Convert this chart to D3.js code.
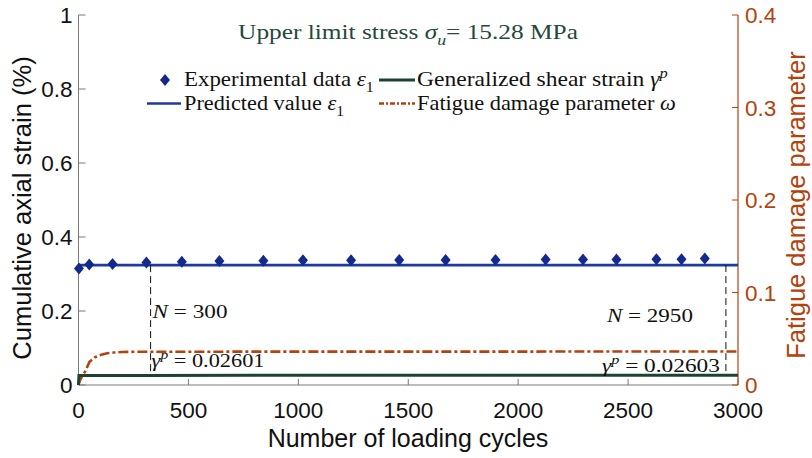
<!DOCTYPE html>
<html><head><meta charset="utf-8">
<script src="https://cdn.jsdelivr.net/npm/d3@7"></script>
<style>body{margin:0;background:#fff} svg{display:block}</style>
</head><body><svg id="c" width="812" height="458"></svg>
<script>
// ---- data ----
const expCycles = [2, 49, 155, 309, 470, 641, 841, 1021, 1240, 1459, 1670, 1897, 2125, 2295, 2447, 2629, 2743, 2849];
const expStrain = [0.315, 0.326, 0.327, 0.331, 0.333, 0.335, 0.336, 0.337, 0.337, 0.338, 0.338, 0.338, 0.339, 0.339, 0.339, 0.340, 0.340, 0.342];
const predCycles = [0, 3000];
const predStrain = [0.324, 0.324];
const shearCycles = [0, 2, 300, 3000];
const shearStrain = [0, 0.0258, 0.02601, 0.02603];
const damageCycles = [0, 5, 15, 30, 50, 75, 100, 130, 160, 200, 250, 300, 3000];
const damageValue = [0, 0.004, 0.009, 0.0144, 0.025, 0.030, 0.0324, 0.0343, 0.0351, 0.0356, 0.0359, 0.0360, 0.0362];
const markCycles = [328, 2945];
const xTicks = [0, 500, 1000, 1500, 2000, 2500, 3000];
const yTicks = [0, 0.2, 0.4, 0.6, 0.8, 1];
const y2Ticks = [0, 0.1, 0.2, 0.3, 0.4];

// ---- style ----
const C = {blue:"#14298c", line:"#1d3a9e", green:"#1b4430", orange:"#b3420c", title:"#24493a", axis:"#7a7a7a", text:"#111"};
const SERIF = "'Liberation Serif','Times New Roman',serif";
const SANS = "'Liberation Sans',Arial,Helvetica,sans-serif";

const svg = d3.select("#c");
const L = 78.5, R = 738, T = 15, B = 385;
const x = d3.scaleLinear().domain([0, 3000]).range([L, R]);
const y = d3.scaleLinear().domain([0, 1]).range([B, T]);
const y2 = d3.scaleLinear().domain([0, 0.4]).range([B, T]);

// serif math-like text, stretched horizontally to a target width (Computer Modern is wider than Times)
function rich(g, px, py, parts, size, color, anchor, width) {
  const gg = g.append("g").attr("transform", `translate(${px},${py})`);
  const t = gg.append("text").attr("x", 0).attr("y", 0)
    .attr("font-family", SERIF).attr("font-size", size).attr("fill", color)
    .attr("text-anchor", anchor || "start");
  let cur = 0;
  parts.forEach(([s, st]) => {
    st = st || "";
    let shift = 0, fs = size;
    if (st.includes("sub")) { shift = size * 0.3; fs = size * 0.7; }
    if (st.includes("sup")) { shift = -size * 0.42; fs = size * 0.7; }
    const ts = t.append("tspan").text(s).attr("font-size", fs).attr("dy", shift - cur);
    if (st.includes("i")) ts.attr("font-style", "italic");
    cur = shift;
  });
  if (width) {
    const w = t.node().getComputedTextLength();
    if (w > 0) gg.attr("transform", `translate(${px},${py}) scale(${width / w},1)`);
  }
  return t;
}

// ---- axes ----
const ax = svg.append("g").attr("font-family", SANS);
ax.append("line").attr("x1", L).attr("x2", L).attr("y1", T).attr("y2", B).attr("stroke", C.axis).attr("stroke-width", 1);
yTicks.forEach(v => {
  ax.append("line").attr("x1", L).attr("x2", L + 7).attr("y1", y(v)).attr("y2", y(v)).attr("stroke", C.axis);
  ax.append("text").attr("x", L - 6).attr("y", y(v)).attr("dy", "0.36em").attr("text-anchor", "end")
    .attr("font-size", 22.5).attr("fill", C.text).text(d3.format("~g")(v));
});
ax.append("line").attr("x1", L).attr("x2", R).attr("y1", B).attr("y2", B).attr("stroke", C.axis);
xTicks.forEach(v => {
  ax.append("line").attr("x1", x(v)).attr("x2", x(v)).attr("y1", B).attr("y2", B - 6).attr("stroke", C.axis);
  ax.append("text").attr("x", x(v)).attr("y", 418).attr("text-anchor", "middle")
    .attr("font-size", 22.5).attr("fill", C.text).text(v);
});
ax.append("line").attr("x1", R).attr("x2", R).attr("y1", T).attr("y2", B).attr("stroke", C.orange).attr("stroke-width", 1.2);
y2Ticks.forEach(v => {
  ax.append("line").attr("x1", R).attr("x2", R - 6).attr("y1", y2(v)).attr("y2", y2(v)).attr("stroke", C.orange);
  ax.append("text").attr("x", R + 7).attr("y", y2(v)).attr("dy", "0.36em").attr("text-anchor", "start")
    .attr("font-size", 22.5).attr("fill", C.orange).text(d3.format("~g")(v));
});
ax.append("text").attr("transform", `translate(31,208) rotate(-90)`).attr("text-anchor", "middle")
  .attr("font-size", 25.5).attr("fill", C.text).text("Cumulative axial strain (%)");
ax.append("text").attr("transform", `translate(805,205) rotate(-90)`).attr("text-anchor", "middle")
  .attr("font-size", 25.5).attr("fill", C.orange).text("Fatigue damage parameter");
ax.append("text").attr("x", 408).attr("y", 447).attr("text-anchor", "middle")
  .attr("font-size", 25).attr("fill", C.text).text("Number of loading cycles");

// ---- series ----
const line = (xs, ys, sy) => d3.line().x((d, i) => x(xs[i])).y((d, i) => sy(ys[i]))(xs);
svg.append("path").attr("d", line(damageCycles, damageValue, y2)).attr("fill", "none")
  .attr("stroke", C.orange).attr("stroke-width", 2.6).attr("stroke-dasharray", "10,3,3,3");
svg.append("path").attr("d", line(shearCycles, shearStrain, y)).attr("fill", "none")
  .attr("stroke", C.green).attr("stroke-width", 3);
svg.append("path").attr("d", line(predCycles, predStrain, y)).attr("fill", "none")
  .attr("stroke", C.line).attr("stroke-width", 2.6);

const predAt = predStrain[0];
markCycles.forEach(n => {
  svg.append("line").attr("x1", x(n)).attr("x2", x(n))
    .attr("y1", y(predAt)).attr("y2", y(d3.max(shearStrain)))
    .attr("stroke", "#111").attr("stroke-width", 1).attr("stroke-dasharray", "7,4");
});

const diamond = "M0,-6L5,0L0,6L-5,0Z";
svg.append("g").selectAll("path").data(expCycles).join("path")
  .attr("transform", (d, i) => `translate(${x(d)},${y(expStrain[i])})`)
  .attr("d", diamond).attr("fill", C.blue);

// annotations
const an = svg.append("g");
rich(an, x(markCycles[0]) + 2, 318, [["N", "i"], [" = 300"]], 19, C.text, "start", 75);
rich(an, x(markCycles[0]) + 1, 367, [["γ", "i"], ["p", "isup"], [" = 0.02601"]], 19, C.text, "start", 113);
rich(an, x(markCycles[1]) - 33, 322, [["N", "i"], [" = 2950"]], 19, C.text, "end", 86);
rich(an, x(markCycles[1]) - 6, 372, [["γ", "i"], ["p", "isup"], [" = 0.02603"]], 19, C.text, "end", 118);

// title
rich(svg, 408, 38.5, [["Upper limit stress "], ["σ", "i"], ["u", "isub"], ["= 15.28 MPa"]], 21, C.title, "middle", 340);

// legend
const lg = svg.append("g");
lg.append("path").attr("transform", "translate(165,80)").attr("d", diamond).attr("fill", C.blue);
rich(lg, 184, 86, [["Experimental data "], ["ε", "i"], ["1", "sub"]], 20, C.text, "start", 190);
lg.append("line").attr("x1", 379).attr("x2", 415).attr("y1", 80).attr("y2", 80).attr("stroke", C.green).attr("stroke-width", 3);
rich(lg, 417, 86, [["Generalized shear strain "], ["γ", "i"], ["p", "isup"]], 20, C.text, "start", 251);
lg.append("line").attr("x1", 147).attr("x2", 181).attr("y1", 103.5).attr("y2", 103.5).attr("stroke", C.line).attr("stroke-width", 2.6);
rich(lg, 184, 110, [["Predicted value "], ["ε", "i"], ["1", "sub"]], 20, C.text, "start", 160);
lg.append("line").attr("x1", 379).attr("x2", 415).attr("y1", 103.5).attr("y2", 103.5).attr("stroke", C.orange).attr("stroke-width", 2.6).attr("stroke-dasharray", "5,2,2,2");
rich(lg, 417, 110, [["Fatigue damage parameter "], ["ω", "i"]], 20, C.text, "start", 259);
</script></body></html>
